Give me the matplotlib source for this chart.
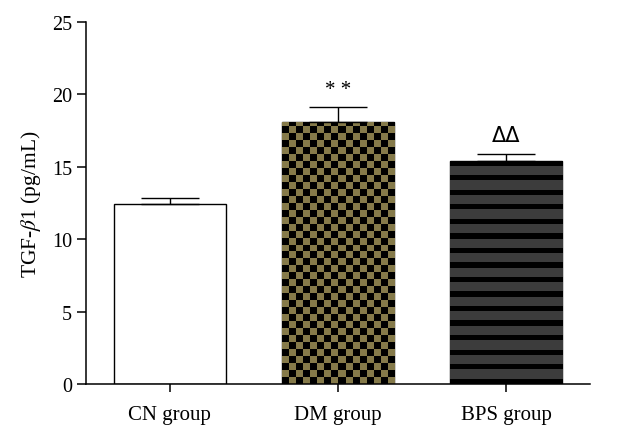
import numpy as np
import matplotlib
matplotlib.use('Agg')
import matplotlib.pyplot as plt

# data
groups = ['CN group', 'DM group', 'BPS group']
means = [12.4, 18.1, 15.4]
errs = [0.45, 1.0, 0.5]
marks = ['', '* *', 'ΔΔ']

plt.rcParams['font.family'] = ['Liberation Serif', 'DejaVu Serif']
plt.rcParams['mathtext.fontset'] = 'stix'

fig = plt.figure(figsize=(6.4, 4.39), dpi=100)
ax = fig.add_axes([0.134, 0.123, 0.788, 0.825])

x = np.arange(len(groups))
w = 0.667
bars = ax.bar(x, means, width=w, color=['white', '#857a4a', '#3c3c3c'],
              edgecolor='black', linewidth=1.0, zorder=2)

# checkerboard texture for DM bar
b = bars[1]
ncol = 16
cell_y = 0.48
nrow = int(np.ceil(means[1] / cell_y)) + 1
checker = (np.add.outer(np.arange(nrow), np.arange(ncol)) % 2).astype(float)
im = ax.imshow(checker, cmap=matplotlib.colors.ListedColormap(['black', '#857a4a']),
               extent=(b.get_x(), b.get_x() + w, 0, nrow * cell_y),
               origin='lower', aspect='auto', interpolation='nearest', zorder=2.5)
im.set_clip_path(b)

# horizontal stripes for BPS bar
b = bars[2]
res = 30
nper = int(np.ceil(means[2])) + 1
pattern = np.ones(nper * res)
for k in range(nper):
    pattern[k * res:k * res + int(0.37 * res)] = 0
im2 = ax.imshow(pattern[:, None], cmap=matplotlib.colors.ListedColormap(['black', '#3c3c3c']),
                extent=(b.get_x(), b.get_x() + w, 0, nper),
                origin='lower', aspect='auto', interpolation='nearest', zorder=2.5)
im2.set_clip_path(b)

ax.errorbar(x, means, yerr=[np.zeros(3), errs], fmt='none', ecolor='black',
            elinewidth=1.0, capsize=21, capthick=1.0, zorder=3)

for xi, m, e, t in zip(x, means, errs, marks):
    if t:
        ax.text(xi, m + e + 0.6, t, ha='center', va='bottom', fontsize=15,
                family=['DejaVu Sans'] if 'Δ' in t else None)

ax.set_xlim(-0.5, 2.5)
ax.set_ylim(0, 25)
ax.set_yticks([0, 5, 10, 15, 20, 25])
ax.set_xticks(x)
ax.set_xticklabels(groups, fontsize=15)
ax.set_ylabel('TGF-$\\beta$1 (pg/mL)', fontsize=15.5, labelpad=6)
ax.tick_params(axis='y', labelsize=14.5, width=1.1, length=6.5)
ax.tick_params(axis='x', width=1.1, length=6, pad=9)
for s in ['top', 'right']:
    ax.spines[s].set_visible(False)
for s in ['left', 'bottom']:
    ax.spines[s].set_linewidth(1.1)

fig.savefig('out.png', dpi=100)
